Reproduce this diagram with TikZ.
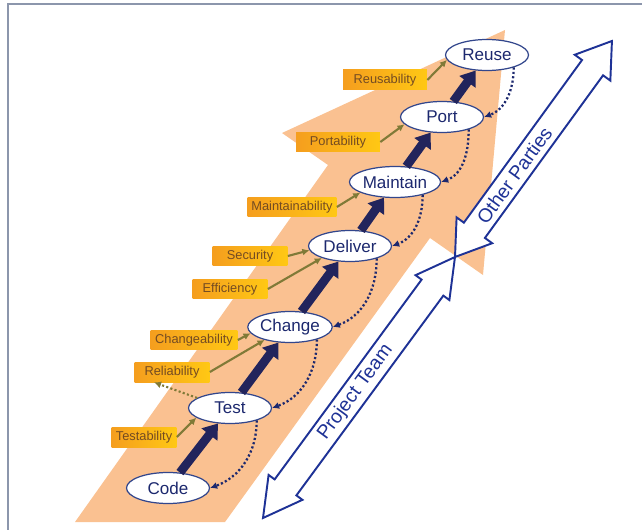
\documentclass[tikz,border=0pt]{standalone}
\usepackage{fontspec}
\setmainfont{Liberation Sans}
\usetikzlibrary{shapes.geometric,arrows.meta}

\definecolor{peach}{RGB}{250,193,145}
\definecolor{climbnavy}{RGB}{34,36,92}
\definecolor{stageline}{RGB}{50,70,140}
\definecolor{stagetext}{RGB}{28,40,110}
\definecolor{qualtext}{RGB}{115,75,35}
\definecolor{qualleft}{RGB}{245,158,30}
\definecolor{qualright}{RGB}{255,200,20}
\definecolor{linkolive}{RGB}{128,122,55}
\definecolor{teamblue}{RGB}{30,50,150}
\definecolor{framegray}{RGB}{140,150,172}

\tikzset{
  stage/.style={ellipse, draw=stageline, line width=0.7pt, fill=white, text=stagetext,
    minimum width=1.66cm, minimum height=0.62cm, inner sep=0pt, font=\fontsize{9.7}{11}\selectfont},
  quality/.style={rectangle, left color=qualleft, right color=qualright, text=qualtext,
    minimum height=0.4cm, inner sep=1pt, font=\fontsize{7.3}{9}\selectfont},
  climb/.style={climbnavy, line width=5pt, -{Triangle[width=11pt,length=8pt]}},
  feedback/.style={stagetext, line width=1.3pt, dash pattern=on 1.2pt off 1.3pt,
    -{Latex[length=4pt,width=4pt]}},
  link/.style={linkolive, line width=1.2pt, -{Latex[length=4pt,width=4pt]}},
  team/.style={draw=teamblue, line width=1.1pt, fill=white, line join=miter},
  teamlabel/.style={text=teamblue, font=\fontsize{11}{13}\selectfont, inner sep=0pt},
}

\begin{document}
\begin{tikzpicture}[x=0.02cm, y=-0.02cm]
    \useasboundingbox (0,0) rectangle (642,530);
    % frame
    \draw[framegray, line width=1pt] (8,530) -- (8,4) -- (642,4);

    % big peach arrow behind everything
    \fill[peach] (75,522) -- (225,522) -- (430,238) -- (483,275) -- (505,30)
      -- (282,133) -- (328,165) -- cycle;

    % Project Team double arrow
    \begin{scope}[shift={(263,518)}, rotate=53.66]
      \draw[team] (0,0) -- (38,21) -- (38,13.5) -- (286,13.5) -- (286,21) -- (324,0)
        -- (286,-21) -- (286,-13.5) -- (38,-13.5) -- (38,-21) -- cycle;
      \node[teamlabel, rotate=53.66] (projteam) at (156,0) {Project Team};
    \end{scope}
    % Other Parties double arrow
    \begin{scope}[shift={(455,257)}, rotate=54]
      \draw[team] (0,0) -- (33,22) -- (33,13) -- (234,13) -- (234,22) -- (267,0)
        -- (234,-22) -- (234,-13) -- (33,-13) -- (33,-22) -- cycle;
      \node[teamlabel, rotate=54] (otherpart) at (101,0) {Other Parties};
    \end{scope}

    % stages
    \foreach \n/\x/\y/\t in {code/168/488/Code, test/230/408/Test, change/290/327/Change,
        deliver/350/246/Deliver, maintain/395/182/Maintain, port/442/117/Port, reuse/487/55/Reuse} {
      \node[stage] (\n) at (\x,\y) {\t};
    }

    % qualities
    \foreach \n/\x/\y/\w/\t in {reusab/385/80/1.68/Reusability, portab/338/142/1.68/Portability,
        maintab/292/207/1.78/Maintainability, secur/250/256/1.5/Security,
        effic/230/289/1.5/Efficiency, changeab/194/340/1.74/Changeability,
        reliab/172/372/1.5/Reliability, testab/144/437/1.3/Testability} {
      \node[quality, minimum width=\w cm] (\n) at (\x,\y) {\t};
    }

    % climbing arrows
    \foreach \a/\b in {code/test, test/change, change/deliver, deliver/maintain,
        maintain/port, port/reuse} {
      \draw[climb] (\a) -- (\b);
    }

    % feedback loops
    \foreach \a/\b in {reuse/port, port/maintain, maintain/deliver, deliver/change,
        change/test, test/code} {
      \draw[feedback] (\a.-25) to[out=-90, in=20] (\b.east);
    }

    % quality links
    \foreach \a/\b in {reusab/reuse.187, portab/port.191, maintab/maintain.197,
        secur/deliver.186, effic/deliver.203, changeab/change.189,
        reliab/change.207, testab/test.196} {
      \draw[link] (\a.east) -- (\b);
    }
    \draw[link, dash pattern=on 1.2pt off 1.3pt] (test.163) -- (reliab.210);
\end{tikzpicture}
\end{document}
